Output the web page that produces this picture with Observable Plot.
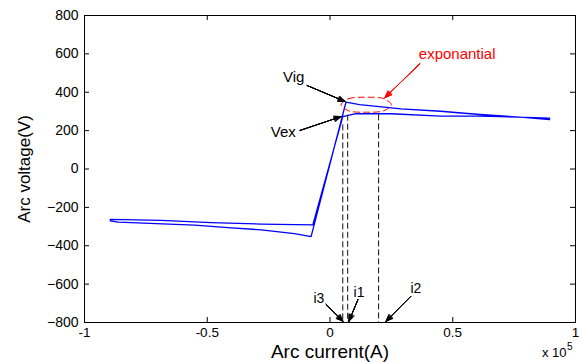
<!DOCTYPE html>
<html><head><meta charset="utf-8">
<script src="https://cdn.jsdelivr.net/npm/d3@7"></script>
<script src="https://cdn.jsdelivr.net/npm/@observablehq/plot@0.6"></script>
<style>body{margin:0;background:#fff}</style>
</head><body><div id="chart"></div>
<script>
// Arc current in units of 1e5 A, arc voltage in V (closed hysteresis loop)
const loopCurrent = [-0.895,-0.687,-0.484,-0.28,-0.07,0.052,0.106,0.25,0.45,0.61,0.8,0.894,0.894,0.8,0.61,0.45,0.289,0.221,0.12,0.065,-0.077,-0.145,-0.28,-0.416,-0.552,-0.863,-0.895,-0.895];
const loopVoltage = [-263,-268,-279,-287,-291,273,289,288,276,276,269,265,257,268,284,301,313,322,336,348,-352,-337,-317,-306,-293,-277,-270,-263];

const xTicks = [-1,-0.5,0,0.5,1];
const xTickLabels = ["-1","-0.5","0","0.5","1"];
const yTicks = [-800,-600,-400,-200,0,200,400,600,800];

// dashed verticals i3, i1, i2
const dashCurrent = [0.052,0.072,0.198];
const dashTopVoltage = [230,280,282];

// red dashed ellipse outline points
const ellipseCurrent = [0.045,0.075,0.148,0.22,0.25,0.22,0.148,0.075];
const ellipseVoltage = [335,366,374,366,335,304,296,304];

// annotations
const labelText = ["Vig","Vex","exponantial","i3","i1","i2"];
const labelCurrent = [-0.148,-0.19,0.518,-0.045,0.118,0.35];
const labelVoltage = [477,193,596,-675,-644,-623];
const labelColor = ["black","black","red","black","black","black"];
const labelSize = [15,15,15,14,14,14];
const arrowX1 = [-0.093,-0.122,0.366,-0.016,0.114,0.329];
const arrowY1 = [435,201,549,-706,-680,-664];
const arrowX2 = [0.061,0.045,0.224,0.053,0.077,0.228];
const arrowY2 = [352,273,372,-794,-794,-794];
const arrowColor = ["black","black","red","black","black","black"];

const loop = loopCurrent.map((x,i)=>({x, y: loopVoltage[i]}));
const ellipse = ellipseCurrent.map((x,i)=>({x, y: ellipseVoltage[i]}));
const dashes = dashCurrent.map((x,i)=>({x, y1: dashTopVoltage[i], y2: -800}));
const labels = labelText.map((t,i)=>({t, x: labelCurrent[i], y: labelVoltage[i], c: labelColor[i], s: labelSize[i]}));
const arrows = arrowX1.map((x1,i)=>({x1, y1: arrowY1[i], x2: arrowX2[i], y2: arrowY2[i], c: arrowColor[i]}));

const W = 582, H = 362, mL = 84, mR = 7, mT = 15, mB = 40;
const fw = W - mL - mR, fh = H - mT - mB;
const font = "Liberation Sans, Arial, sans-serif";

const headMarks = [12, 24, 36, 46].map(a => Plot.arrow(arrows, {x1:"x1", y1:"y1", x2:"x2", y2:"y2", stroke:"c", strokeWidth:1, headLength:11, headAngle:a}));

const chart = Plot.plot({
  width: W, height: H,
  marginLeft: mL, marginRight: mR, marginTop: mT, marginBottom: mB,
  style: {fontFamily: font, background: "#fff"},
  x: {domain: [-1, 1], axis: null},
  y: {domain: [-800, 800], axis: null},
  marks: [
    Plot.line(loop, {x:"x", y:"y", stroke:"#0000ff", strokeWidth:1.3}),
    Plot.ruleX(dashes, {x:"x", y1:"y1", y2:"y2", stroke:"#111", strokeWidth:1, strokeDasharray:"6,3"}),
    Plot.line(ellipse, {x:"x", y:"y", stroke:"#ff0000", strokeWidth:1, strokeDasharray:"6,4", curve:"catmull-rom-closed"}),
    ...headMarks,
    Plot.text(labels, {x:"x", y:"y", text:"t", fill:"c", fontSize: "s", fontStyle: d => d.t === "exponantial" ? "italic" : "normal"}),
    Plot.frame({stroke:"black", strokeWidth:1}),
    Plot.tickY(yTicks, {y: d=>d, stroke:"black", insetRight: fw - 5}),
    Plot.tickY(yTicks, {y: d=>d, stroke:"black", insetLeft: fw - 5}),
    Plot.tickX(xTicks, {x: d=>d, stroke:"black", insetTop: fh - 5}),
    Plot.tickX(xTicks, {x: d=>d, stroke:"black", insetBottom: fh - 5}),
    Plot.axisY({ticks: yTicks, tickSize: 0, tickPadding: 6, fontSize: 14, label: null}),
    Plot.axisX({ticks: xTicks, tickSize: 0, tickPadding: 5, fontSize: 13.5, label: null, tickFormat: (d,i) => xTickLabels[i]}),
    Plot.text(["Arc current(A)"], {x: () => 0, y: () => -800, dy: 29, fontSize: 19, lineAnchor:"middle"}),
    Plot.text(["Arc voltage(V)"], {x: () => -1, y: () => 0, dx: -60, rotate: -90, fontSize: 17, lineAnchor:"middle"}),
    Plot.text(["x 10"], {x: () => 1, y: () => -800, textAnchor:"end", dx: -9, dy: 30, fontSize: 13, lineAnchor:"middle"}),
    Plot.text(["5"], {x: () => 1, y: () => -800, textAnchor:"end", dx: -3, dy: 24, fontSize: 10, lineAnchor:"middle"})
  ]
});
document.getElementById("chart").appendChild(chart);
</script>
</body></html>
